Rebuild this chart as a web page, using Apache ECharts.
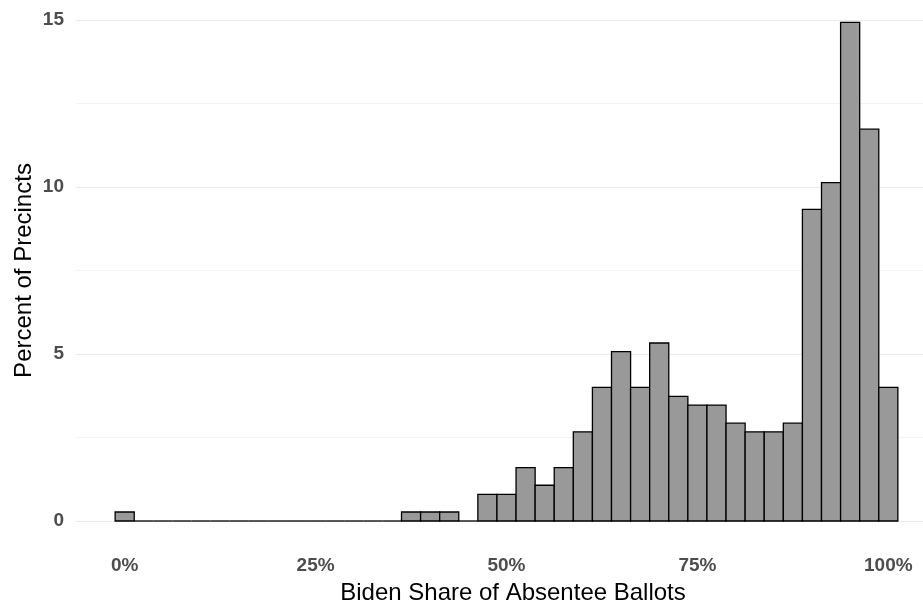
<!DOCTYPE html>
<html>
<head>
<meta charset="utf-8">
<script src="https://cdn.jsdelivr.net/npm/echarts@6/dist/echarts.min.js"></script>
<style>
  html, body { margin: 0; padding: 0; background: #ffffff; }
  #chart { width: 923px; height: 604px; }
</style>
</head>
<body>
<div id="chart"></div>
<script>
// Bin centres (percent Biden share), bin width 2.5 points
const binCenters = [0, 2.5, 5, 7.5, 10, 12.5, 15, 17.5, 20, 22.5, 25, 27.5, 30, 32.5, 35, 37.5, 40, 42.5, 45, 47.5,
                    50, 52.5, 55, 57.5, 60, 62.5, 65, 67.5, 70, 72.5, 75, 77.5, 80, 82.5, 85, 87.5, 90, 92.5, 95, 97.5, 100];
// Percent of precincts in each bin
const percentValues = [0.27, 0, 0, 0, 0, 0, 0, 0, 0, 0, 0, 0, 0, 0, 0, 0.27, 0.27, 0.27, 0, 0.8,
                       0.8, 1.6, 1.07, 1.6, 2.67, 4.0, 5.07, 4.0, 5.33, 3.73, 3.47, 3.47, 2.93, 2.67, 2.67, 2.93, 9.33, 10.13, 14.93, 11.73, 4.0];
const binWidth = 2.5;
const xTickValues = [0, 25, 50, 75, 100];
const yTickValues = [0, 5, 10, 15];
const xTitle = 'Biden Share of Absentee Ballots';
const yTitle = 'Percent of Precincts';

const FONT = "'Liberation Sans', Arial, Helvetica, sans-serif";
const chart = echarts.init(document.getElementById('chart'), null, { renderer: 'canvas' });

const seriesData = binCenters.map((c, i) => [c, percentValues[i]]);

chart.setOption({
  animation: false,
  backgroundColor: '#ffffff',
  grid: { left: 76, right: -14, top: 20, bottom: 83, containLabel: false, outerBoundsMode: 'none' },
  xAxis: {
    type: 'value',
    min: -6.375,
    max: 106.375,
    name: xTitle,
    nameLocation: 'middle',
    nameGap: 60,
    nameMoveOverlap: false,
    nameTextStyle: { fontFamily: FONT, fontSize: 24, color: '#000000', padding: [0, 0, 0, 13] },
    axisLine: { show: false },
    axisTick: { show: false },
    splitLine: { show: false },
    axisLabel: {
      customValues: xTickValues,
      formatter: v => v + '%',
      margin: 35,
      fontFamily: FONT,
      fontSize: 19,
      fontWeight: 'bold',
      color: '#4d4d4d'
    }
  },
  yAxis: {
    type: 'value',
    min: yTickValues[0],
    max: yTickValues[yTickValues.length - 1],
    interval: 5,
    name: yTitle,
    nameLocation: 'middle',
    nameGap: 40,
    nameMoveOverlap: false,
    nameTextStyle: { fontFamily: FONT, fontSize: 24, color: '#000000' },
    axisLine: { show: false },
    axisTick: { show: false },
    minorTick: { show: false, splitNumber: 2 },
    splitLine: { show: true, lineStyle: { color: '#ebebeb', width: 1 } },
    minorSplitLine: { show: true, lineStyle: { color: '#f3f3f3', width: 1 } },
    axisLabel: {
      margin: 12,
      fontFamily: FONT,
      fontSize: 19,
      fontWeight: 'bold',
      color: '#4d4d4d'
    }
  },
  series: [{
    type: 'custom',
    data: seriesData,
    clip: false,
    renderItem: function (params, api) {
      const c = api.value(0);
      const v = api.value(1);
      const p0 = api.coord([c - binWidth / 2, 0]);
      const p1 = api.coord([c + binWidth / 2, v]);
      if (v === 0) {
        return {
          type: 'line',
          shape: { x1: p0[0], y1: p0[1], x2: p1[0], y2: p0[1] },
          style: { stroke: '#000000', lineWidth: 1.3 }
        };
      }
      return {
        type: 'rect',
        shape: { x: p0[0], y: p1[1], width: p1[0] - p0[0], height: p0[1] - p1[1] },
        style: { fill: '#999999', stroke: '#000000', lineWidth: 1.3 }
      };
    }
  }]
});
</script>
</body>
</html>
